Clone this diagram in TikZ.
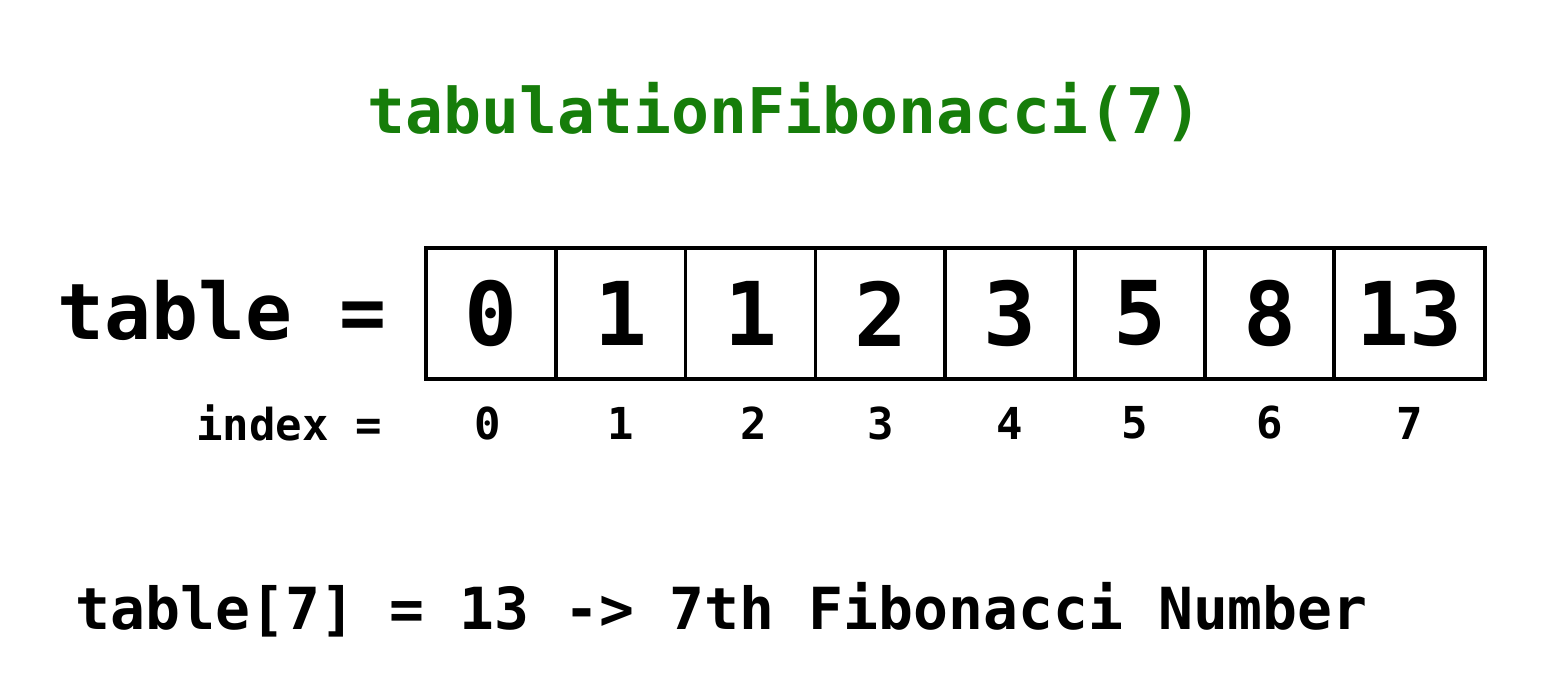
\documentclass[tikz,border=0pt]{standalone}
\usepackage{fontspec}
\setmonofont{DejaVu Sans Mono}
\usepackage{tikz}
\usetikzlibrary{positioning}
\definecolor{titlegreen}{RGB}{22,125,10}

\begin{document}
\begin{tikzpicture}[x=1pt, y=-1pt, thick,
    cell/.style={draw, line width=3.5pt, minimum height=131pt, inner sep=0pt,
        font=\ttfamily\bfseries\fontsize{88}{92}\selectfont},
    idx/.style={font=\ttfamily\bfseries\fontsize{44}{48}\selectfont, inner sep=0pt}]
    \useasboundingbox (0,0) rectangle (1550,700);
    \node[font=\ttfamily\bfseries\fontsize{63}{70}\selectfont, text=titlegreen] (title) at (785,112) {tabulationFibonacci(7)};
    \node[font=\ttfamily\bfseries\fontsize{78}{86}\selectfont, anchor=east] (tbl) at (390,310) {table =};
    % the table cells
    \node[cell, minimum width=130pt] (c0) at (491,313.5) {0};
    \node[cell, minimum width=130pt] (c1) at (620.5,313.5) {1};
    \node[cell, minimum width=130pt] (c2) at (750.5,313.5) {1};
    \node[cell, minimum width=130pt] (c3) at (880.5,313.5) {2};
    \node[cell, minimum width=130pt] (c4) at (1010,313.5) {3};
    \node[cell, minimum width=130pt] (c5) at (1140,313.5) {5};
    \node[cell, minimum width=130pt] (c6) at (1269.5,313.5) {8};
    \node[cell, minimum width=151pt] (c7) at (1409.5,313.5) {13};
    % indices
    \coordinate (irow) at (0,423);
    \node[idx, anchor=east] (ilabel) at (382,423) {index =};
    \foreach \i/\dx in {0/-3,1/0,2/3,3/0,4/0,5/-5,6/0,7/0}
        \node[idx] (i\i) at ([xshift=\dx pt]c\i.center |- irow) {\i};
    \node[font=\ttfamily\bfseries\fontsize{58}{64}\selectfont, anchor=west] (result) at (72,610) {table[7] = 13 -> 7th Fibonacci Number};
\end{tikzpicture}
\end{document}
